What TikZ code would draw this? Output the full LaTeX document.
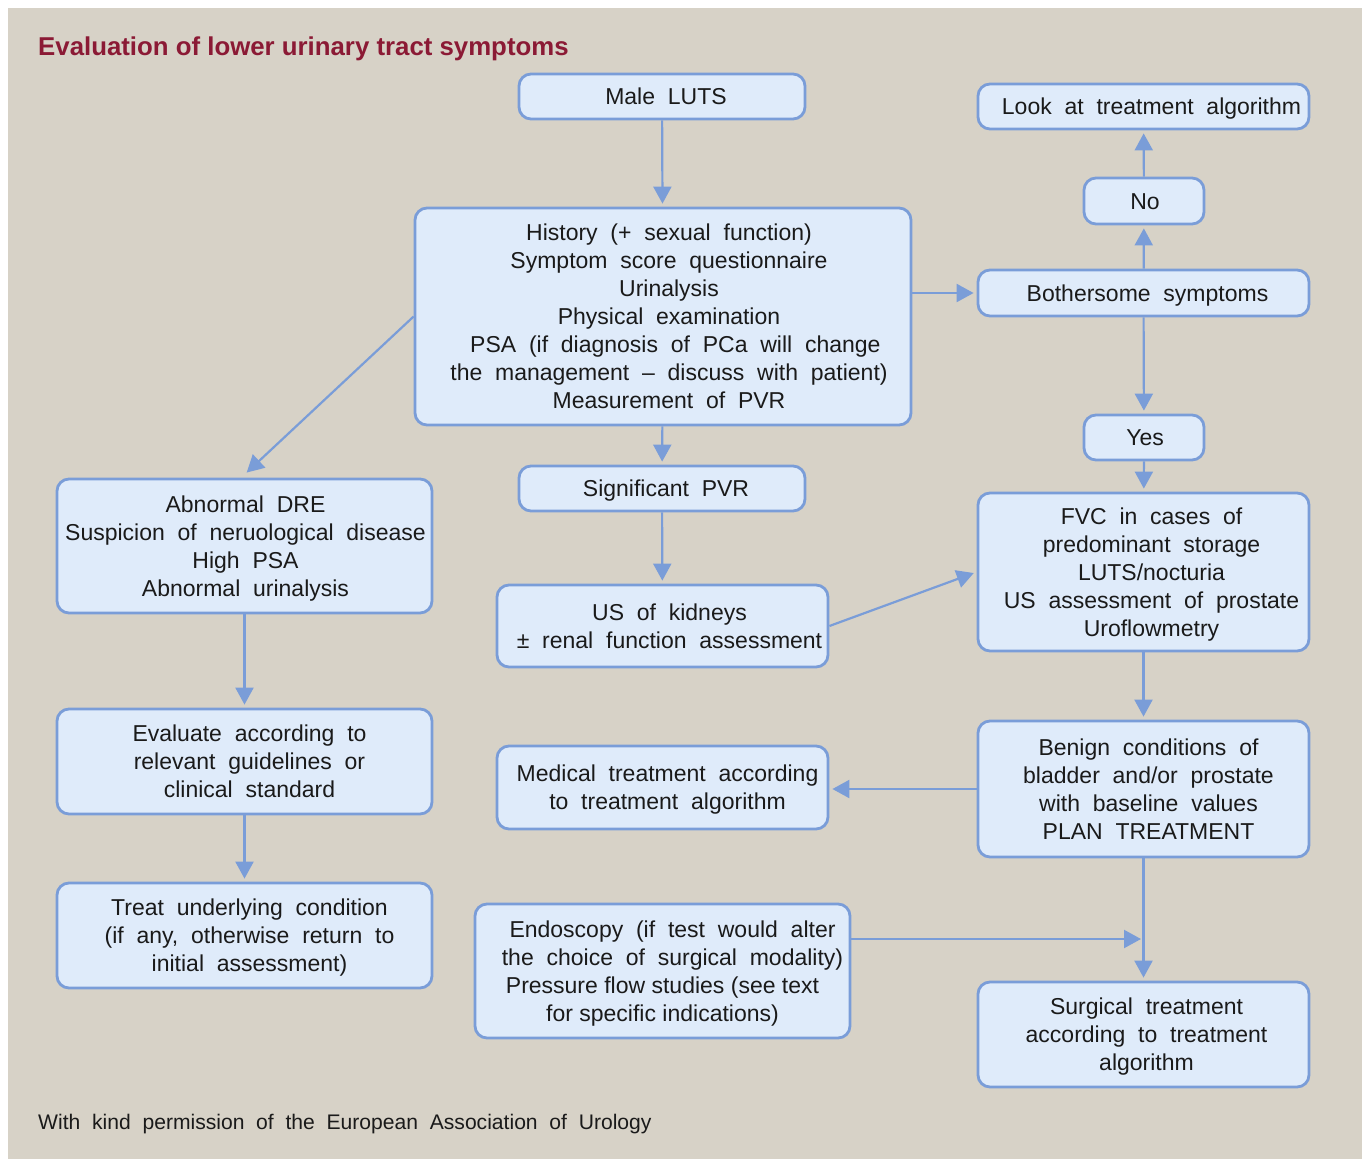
\documentclass[tikz,border=0pt]{standalone}
\usepackage{fontspec}
\setmainfont{Liberation Sans}[WordSpace=2.0]
\newfontfamily\titlefont{Liberation Sans}[WordSpace=1.0]
\newfontfamily\normsp{Liberation Sans}[WordSpace=1.0]
\usetikzlibrary{arrows.meta}
\definecolor{bgbeige}{HTML}{D7D2C7}
\definecolor{boxfill}{HTML}{DFEBFA}
\definecolor{boxline}{HTML}{7A9DD8}
\definecolor{titlered}{HTML}{8B1A35}
\definecolor{txt}{HTML}{1A1A1A}
\newcommand\bx[2][4pt]{\raisebox{-2.5pt}[\height][\depth]{\hspace*{#1}\hspace*{#1}\begin{tabular}{@{}c@{}}#2\end{tabular}}}
\tikzset{
  box/.style={draw=boxline, fill=boxfill, line width=2.8pt, rounded corners=12pt,
    align=center, inner sep=0pt, text=txt, font=\fontsize{23}{28}\selectfont},
  conn/.style={draw=boxline, line width=2.2pt, -{Triangle[length=17pt,width=18pt]}, shorten >=3pt},
}
\begin{document}
\begin{tikzpicture}[x=1pt,y=-1pt]
\useasboundingbox (0,0) rectangle (1367,1159);
\fill[white] (0,0) rectangle (1367,1159);
\fill[bgbeige] (8,8) rectangle (1362,1159);

\node[anchor=base west, inner sep=0pt, text=titlered, font=\titlefont\bfseries\fontsize{25.8}{30}\selectfont] (title) at (38,55) {Evaluation of lower urinary tract symptoms};
\node[anchor=base west, inner sep=0pt, text=txt, font=\fontsize{21.1}{25}\selectfont] (footer) at (38,1129) {With kind permission of the European Association of Urology};

\node[box, minimum width=286pt, minimum height=45pt] (male) at (662,96.5) {\bx{Male LUTS}};
\node[box, minimum width=496pt, minimum height=217pt] (hist) at (663,316.5) {\bx[6pt]{History (+ sexual function)\\Symptom score questionnaire\\Urinalysis\\Physical examination\\\ PSA (if diagnosis of PCa will change\\the management -- discuss with patient)\\Measurement of PVR}};
\node[box, minimum width=331pt, minimum height=45pt] (look) at (1143.5,106.5) {\bx[8pt]{Look at treatment algorithm}};
\node[box, minimum width=120pt, minimum height=46pt] (no) at (1144,201) {\bx[1pt]{No}};
\node[box, minimum width=331pt, minimum height=46pt] (both) at (1143.5,293) {\bx{Bothersome symptoms}};
\node[box, minimum width=120pt, minimum height=45pt] (yes) at (1144,437.5) {\bx[1pt]{Yes}};
\node[box, minimum width=375pt, minimum height=134pt] (dre) at (244.5,546) {\bx[1pt]{Abnormal DRE\\Suspicion of neruological disease\\High PSA\\Abnormal urinalysis}};
\node[box, minimum width=286pt, minimum height=45pt] (pvr) at (662,488.5) {\bx{Significant PVR}};
\node[box, minimum width=331pt, minimum height=82pt] (us) at (662.5,626) {\bx[7pt]{US of kidneys\\\textpm{} renal function assessment}};
\node[box, minimum width=331pt, minimum height=158pt] (fvc) at (1143.5,572) {\bx[8pt]{FVC in cases of\\predominant storage\\LUTS/nocturia\\US assessment of prostate\\Uroflowmetry}};
\node[box, minimum width=375pt, minimum height=105pt] (eval) at (244.5,761.5) {\bx[5pt]{Evaluate according to\\relevant guidelines or\\clinical standard}};
\node[box, minimum width=331pt, minimum height=136pt] (benign) at (1143.5,789) {\bx[5pt]{Benign conditions of\\bladder and/or prostate\\with baseline values\\PLAN TREATMENT}};
\node[box, minimum width=331pt, minimum height=83pt] (med) at (662.5,787.5) {\bx[5pt]{Medical treatment according\\to treatment algorithm}};
\node[box, minimum width=375pt, minimum height=105pt] (treat) at (244.5,935.5) {\bx[5pt]{Treat underlying condition\\(if any, otherwise return to\\initial assessment)}};
\node[box, minimum width=375pt, minimum height=134pt] (endo) at (662.5,971) {\bx[0pt]{\hspace*{20pt}Endoscopy (if test would alter\\\hspace*{20pt}the choice of surgical modality)\\{\normsp Pressure flow studies (see text}\\{\normsp for specific indications)}}};
\node[box, minimum width=331pt, minimum height=105pt] (surg) at (1143.5,1034.5) {\bx[3pt]{Surgical treatment\\according to treatment\\algorithm}};

\coordinate (join) at (1144,939);

\draw[conn] (male) -- (hist);
\draw[conn] (hist) -- (pvr);
\draw[conn] (hist.west) -- ([yshift=3pt]dre.north);
\draw[conn] (hist.east |- both) -- (both.west);
\draw[conn] (both) -- (no);
\draw[conn] (no) -- (look);
\draw[conn] (both) -- (yes);
\draw[conn] (yes) -- (fvc);
\draw[conn] (pvr) -- (us);
\draw[conn] (us.east) -- (fvc.west);
\draw[conn] (fvc) -- (benign);
\draw[conn] (benign.west) -- (med.east |- benign.west);
\draw[conn] (benign) -- (surg);
\draw[conn] (endo.east |- join) -- (join);
\draw[conn] (dre) -- (eval);
\draw[conn] (eval) -- (treat);
\end{tikzpicture}
\end{document}
